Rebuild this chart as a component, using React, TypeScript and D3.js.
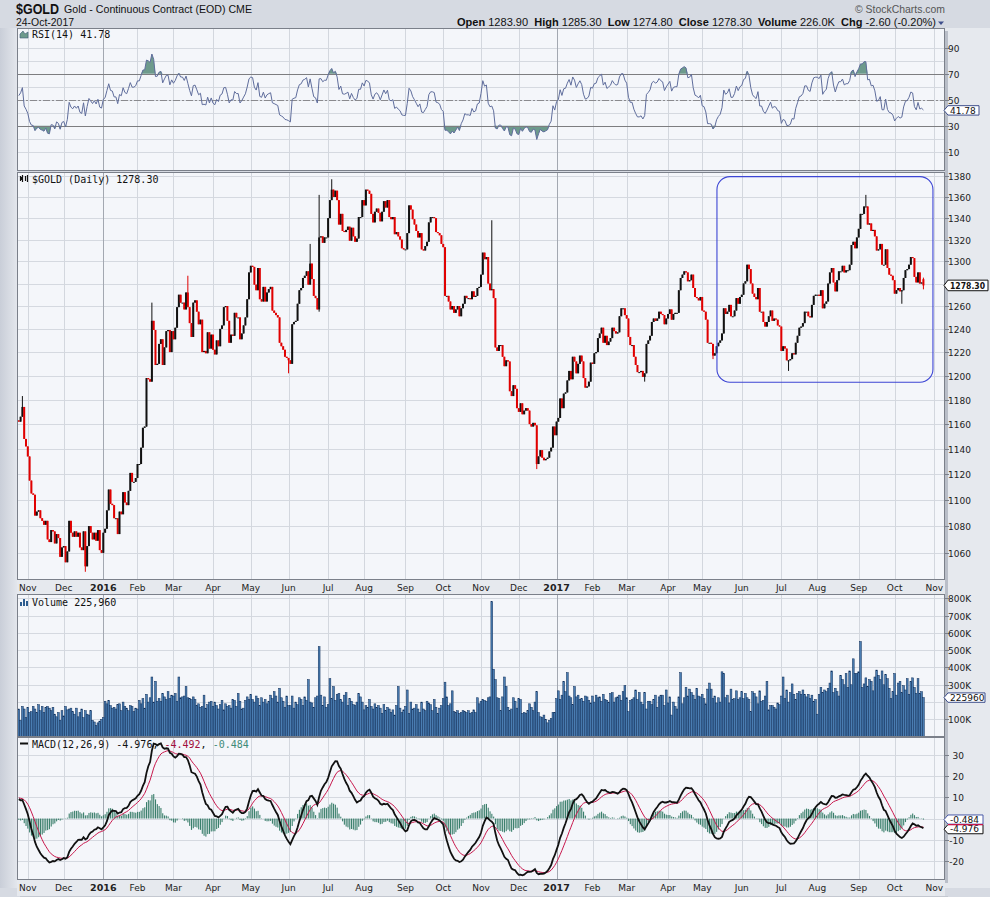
import { useEffect, useRef } from 'react';
import * as d3 from 'd3';

// closes before the visible window (Aug 24 - Oct 23 2015), only used to warm up RSI / MACD
const warmupClose = [
    1153, 1139, 1124, 1124, 1133, 1132,
    1139, 1134, 1124, 1121, 1120, 1121, 1109, 1103, 1108, 1102, 1118, 1117, 1137, 1132, 1124, 1131, 1153, 1146, 1132, 1127, 1115,
    1114, 1137, 1137, 1146, 1145, 1147, 1156, 1163, 1166, 1187, 1187, 1176, 1172, 1177, 1167, 1166, 1163,
];

// daily closes, Oct 26 2015 -> Oct 24 2017
const close2015 = [
    1162, 1166, 1174, 1148, 1142,
    1134, 1115, 1105, 1104, 1088, 1091, 1092, 1086, 1084, 1081, 1084, 1070, 1068, 1077, 1076, 1067, 1074, 1071, 1057, 1064,
    1065, 1053, 1061, 1084, 1075, 1072, 1076, 1072, 1075, 1064, 1062, 1076, 1050, 1065, 1080, 1075, 1070, 1075, 1069, 1077, 1062, 1060,
];
const close2016 = [
    1075, 1078, 1092, 1108, 1097, 1096, 1086, 1086, 1074, 1091, 1089, 1106, 1098, 1096, 1107, 1121, 1114, 1114, 1117,
    1128, 1128, 1141, 1157, 1158, 1198, 1197, 1195, 1247, 1239, 1209, 1210, 1227, 1231, 1209, 1224, 1238, 1239, 1220, 1238,
    1231, 1241, 1259, 1270, 1263, 1263, 1257, 1272, 1259, 1245, 1233, 1263, 1265, 1255, 1244, 1248, 1220, 1221, 1219, 1237, 1223, 1235,
    1222, 1218, 1230, 1225, 1240, 1243, 1259, 1260, 1247, 1228, 1235, 1234, 1254, 1250, 1250, 1231, 1236, 1243, 1250, 1266, 1290,
    1296, 1295, 1279, 1274, 1294, 1266, 1264, 1277, 1264, 1272, 1275, 1277, 1256, 1254, 1252, 1250, 1228, 1225, 1222, 1216, 1215,
    1213, 1210, 1244, 1246, 1247, 1262, 1274, 1276, 1285, 1287, 1291, 1279, 1298, 1284, 1269, 1267, 1257, 1322, 1323, 1317, 1322, 1322,
    1340, 1357, 1367, 1360, 1366, 1357, 1334, 1344, 1328, 1327, 1329, 1332, 1319, 1331, 1323, 1318, 1321, 1341, 1341, 1357,
    1352, 1367, 1366, 1363, 1344, 1336, 1346, 1349, 1345, 1337, 1346, 1356, 1350, 1357, 1341, 1339, 1341, 1325, 1327, 1323, 1320, 1312, 1311,
    1311, 1326, 1352, 1348, 1339, 1334, 1328, 1322, 1326, 1311, 1310, 1314, 1318, 1336, 1341, 1341, 1340, 1327, 1326, 1324, 1316,
    1313, 1269, 1269, 1264, 1257, 1260, 1254, 1257, 1260, 1251, 1258, 1262, 1269, 1267, 1267, 1266, 1273, 1268, 1269, 1276, 1277,
    1288, 1308, 1302, 1304, 1280, 1274, 1275, 1267, 1224, 1221, 1226, 1226, 1216, 1208, 1213, 1212, 1187, 1183, 1192, 1189, 1173,
    1170, 1177, 1168, 1171, 1173, 1171, 1160, 1158, 1161, 1159, 1128, 1134, 1139, 1133, 1131, 1132, 1133, 1138, 1141, 1158, 1151,
];
const close2017 = [
    1162, 1165, 1181, 1173, 1185, 1186, 1196, 1204, 1197, 1216, 1212, 1202, 1210, 1217, 1212, 1198, 1190, 1191, 1195, 1211,
    1210, 1219, 1220, 1232, 1236, 1241, 1228, 1234, 1226, 1229, 1232, 1241, 1238, 1236, 1237, 1251, 1258, 1258, 1252,
    1249, 1233, 1226, 1226, 1216, 1209, 1203, 1203, 1204, 1199, 1202, 1227, 1230, 1234, 1246, 1249, 1247, 1249, 1255, 1253, 1252, 1244, 1249,
    1253, 1257, 1248, 1253, 1254, 1254, 1274, 1285, 1288, 1291, 1290, 1282, 1283, 1288, 1276, 1268, 1267, 1265, 1268,
    1256, 1255, 1248, 1228, 1228, 1227, 1217, 1219, 1225, 1228, 1230, 1236, 1258, 1253, 1255, 1261, 1251, 1251, 1256, 1267, 1262, 1268,
    1270, 1280, 1282, 1297, 1293, 1280, 1271, 1268, 1266, 1276, 1255, 1255, 1246, 1242, 1246, 1251, 1256, 1247, 1249, 1248, 1243, 1242,
    1221, 1225, 1223, 1213, 1213, 1214, 1219, 1218, 1228, 1234, 1241, 1242, 1245, 1255, 1255, 1251, 1250, 1261, 1269, 1270,
    1270, 1269, 1274, 1258, 1262, 1264, 1280, 1290, 1294, 1281, 1273, 1283, 1291, 1291, 1296, 1290, 1292, 1292, 1297, 1315, 1318, 1312, 1322,
    1330, 1344, 1344, 1351, 1351, 1334, 1335, 1328, 1329, 1323, 1310, 1311, 1316, 1297, 1297, 1311, 1294, 1288, 1287, 1283,
    1271, 1274, 1276, 1273, 1274, 1285, 1292, 1293, 1297, 1304, 1303, 1286, 1281, 1290, 1280, 1280.9, 1278.3,
];

// daily volume, thousands of contracts
const volume2015 = [
    160, 95, 175, 160, 110,
    170, 140, 145, 175, 160, 140, 185, 150, 175, 140, 170, 175, 165, 150, 170, 130, 115, 140, 95, 150,
    120, 175, 155, 160, 165, 145, 130, 165, 115, 140, 160, 110, 150, 130, 125, 150, 95, 85, 65, 80, 90, 100,
];
const volume2016 = [
    110, 205, 190, 210, 180, 165, 170, 160, 185, 190, 150, 200, 175, 165, 150, 180, 175, 145, 165,
    160, 210, 190, 220, 165, 245, 200, 225, 345, 200, 320, 205, 220, 205, 250, 230, 215, 260, 220, 240,
    235, 250, 205, 345, 225, 230, 235, 290, 225, 220, 215, 230, 215, 180, 190, 170, 175, 240, 165, 185, 200, 205,
    175, 200, 180, 160, 185, 210, 155, 190, 175, 180, 165, 215, 210, 175, 250, 205, 160, 165, 210, 230, 215,
    245, 215, 200, 235, 220, 180, 225, 200, 215, 190, 205, 240, 220, 260, 235, 200, 280, 225, 205, 170, 235,
    180, 180, 235, 165, 200, 185, 225, 215, 180, 230, 210, 330, 200, 195, 170, 225, 235, 520, 240, 180, 230, 170,
    185, 335, 220, 290, 210, 245, 250, 215, 200, 240, 255, 180, 220, 205, 185, 180, 200, 250, 230, 200,
    155, 180, 170, 215, 175, 160, 190, 170, 180, 165, 135, 185, 150, 170, 160, 140, 155, 125, 180, 290, 165, 140, 155,
    175, 270, 135, 200, 160, 165, 185, 160, 140, 200, 160, 150, 205, 195, 185, 150, 215, 170, 135, 165, 180,
    220, 315, 230, 180, 190, 265, 145, 140, 150, 135, 140, 150, 145, 140, 150, 135, 140, 155, 140, 225, 190,
    205, 215, 210, 205, 225, 230, 780, 390, 330, 225, 220, 150, 230, 345, 290, 170, 150, 160, 225, 205, 165,
    220, 215, 135, 140, 135, 150, 190, 170, 150, 200, 260, 140, 115, 110, 125, 100, 80, 95, 105, 140, 140,
];
const volume2017 = [
    220, 265, 215, 240, 320, 260, 370, 235, 225, 185, 290, 230, 240, 215, 220, 205, 235, 230, 210, 195,
    235, 200, 240, 225, 230, 205, 245, 215, 210, 200, 250, 255, 200, 225, 230, 240, 210, 260, 295,
    225, 145, 210, 215, 225, 270, 215, 255, 200, 185, 255, 160, 205, 205, 185, 215, 240, 170, 230, 240, 240, 180, 270,
    195, 230, 125, 200, 175, 160, 230, 370, 190, 225, 285, 235, 275, 255, 240, 215, 280, 235, 230,
    245, 220, 190, 275, 310, 275, 220, 235, 195, 225, 200, 375, 365, 225, 240, 195, 275, 215, 220, 265, 215, 225,
    260, 220, 250, 225, 215, 145, 260, 250, 230, 190, 265, 205, 210, 235, 320, 155, 180, 180, 170, 160, 195, 185,
    235, 345, 220, 270, 200, 255, 305, 245, 215, 250, 260, 245, 270, 245, 230, 245, 220, 240, 205, 215,
    130, 245, 285, 255, 270, 260, 280, 310, 380, 255, 280, 260, 235, 355, 330, 300, 365, 285, 380, 300, 450, 365, 365,
    375, 550, 285, 305, 340, 290, 330, 320, 265, 345, 385, 355, 330, 380, 300, 360, 335, 280, 220, 260,
    365, 240, 310, 320, 255, 295, 270, 335, 245, 320, 340, 285, 250, 335, 250, 260, 225.96,
];

// exchange holidays (no bar)
const holidays = [
    '2015-11-26', '2015-12-25', '2016-01-01', '2016-01-18', '2016-02-15', '2016-03-25', '2016-05-30', '2016-07-04',
    '2016-09-05', '2016-11-24', '2016-12-26', '2017-01-02', '2017-01-16', '2017-02-20', '2017-04-14', '2017-05-29',
    '2017-07-04', '2017-09-04',
];

// intraday extremes that stick out of the bodies
const wickHigh: [string, number][] = [
    ['2015-10-28', 1183], ['2016-02-11', 1263], ['2016-03-11', 1287], ['2016-06-17', 1316], ['2016-06-24', 1362],
    ['2016-07-06', 1377], ['2016-11-09', 1338], ['2017-09-08', 1362], ['2017-10-24', 1285.3],
];
const wickLow: [string, number][] = [
    ['2015-12-17', 1046], ['2016-06-01', 1202], ['2016-06-24', 1255], ['2016-12-15', 1124], ['2017-03-15', 1195],
    ['2017-05-09', 1214], ['2017-07-10', 1204], ['2017-10-06', 1262], ['2017-10-24', 1274.8],
];

// last bar as printed in the header: open, high, low, close
const lastBar = [1283.9, 1285.3, 1274.8, 1278.3];

// axis labels (the ones hidden behind value tags are left out)
const priceTicks = d3.range(1060, 1381, 20);
const priceLabels = priceTicks.filter(v => v !== 1280);
const rsiTicks = [10, 30, 50, 70, 90];
const volTicks = [100, 200, 300, 400, 500, 600, 700, 800];
const volLabels = volTicks.filter(v => v !== 200);
const macdTicks = [-20, -10, 10, 20, 30];

const AX = "'DejaVu Sans', Verdana, sans-serif";
const MONO = "'DejaVu Sans Mono', monospace";
const HEAD = "'Liberation Sans', Arial, sans-serif";

export default function App() {
    const ref = useRef<SVGSVGElement>(null);

    useEffect(() => {
        if (!ref.current) return;
        const svg = d3.select(ref.current);
        svg.selectAll('*').remove();

        const L = 17, R = 945;
        const RSI = [28, 171], PRICE = [172, 580], VOL = [594, 737], MACD = [737, 880];

        const closes = [...close2015, ...close2016, ...close2017];
        const vols = [...volume2015, ...volume2016, ...volume2017];
        const n = closes.length;
        const fmt = d3.timeFormat('%Y-%m-%d');
        const days = d3.timeDays(new Date(2015, 9, 26), new Date(2017, 10, 4))
            .filter(d => d.getDay() % 6 !== 0 && !holidays.includes(fmt(d)));

        // indicators
        const all = [...warmupClose, ...closes];
        const w = warmupClose.length;
        const ema = (src: number[], p: number) => {
            const k = 2 / (p + 1);
            const out: number[] = [];
            src.forEach((v, i) => out.push(i === 0 ? v : v * k + out[i - 1] * (1 - k)));
            return out;
        };
        const rsiAll: number[] = [50];
        let ag = 0, al = 0;
        for (let i = 1; i < all.length; i++) {
            const d = all[i] - all[i - 1];
            const g = Math.max(d, 0), l = Math.max(-d, 0);
            if (i <= 14) { ag += g / 14; al += l / 14; }
            else { ag = (ag * 13 + g) / 14; al = (al * 13 + l) / 14; }
            rsiAll.push(al === 0 ? 100 : 100 - 100 / (1 + ag / al));
        }
        const rsi = rsiAll.slice(w);
        const e12 = ema(all, 12), e26 = ema(all, 26);
        const macdAll = all.map((_, i) => e12[i] - e26[i]);
        const sigAll = ema(macdAll, 9);
        const macd = macdAll.slice(w), signal = sigAll.slice(w);
        const hist = macd.map((m, i) => m - signal[i]);

        // scales
        const x = d3.scaleLinear().domain([-1, 515]).range([L, R]);
        const yP = d3.scaleLog().domain([1040, 1384]).range([PRICE[1], PRICE[0]]);
        const yR = d3.scaleLinear().domain([0, 100]).range([164.7, 34.7]);
        const yV = d3.scaleLinear().domain([0, 820]).range([736.7, 594.8]);
        const yM = d3.scaleLinear().domain([-28.8, 38.2]).range([MACD[1], MACD[0]]);

        const ticks: { i: number; d: Date }[] = [];
        for (let k = 1; k < days.length; k++) {
            if (days[k].getMonth() !== days[k - 1].getMonth()) ticks.push({ i: k, d: days[k] });
        }
        const cx = (i: number) => Math.round(x(i)) + 0.5;

        // background
        svg.append('rect').attr('width', 990).attr('height', 897).attr('fill', '#d6dae2');
        const sideGrad = svg.append('defs').append('linearGradient').attr('id', 'side').attr('x1', 0).attr('x2', 1);
        sideGrad.append('stop').attr('offset', 0).attr('stop-color', '#c9ced8');
        sideGrad.append('stop').attr('offset', 1).attr('stop-color', '#e3e6ec');
        svg.append('rect').attr('x', 0).attr('y', 28).attr('width', L).attr('height', 860).attr('fill', 'url(#side)');
        svg.append('rect').attr('x', R).attr('y', 28).attr('width', 990 - R).attr('height', 860).attr('fill', '#e6e9ee');
        svg.append('rect').attr('x', L).attr('y', PRICE[1]).attr('width', R - L).attr('height', VOL[0] - PRICE[1]).attr('fill', '#e6e9ee');
        svg.append('rect').attr('x', L).attr('y', MACD[1]).attr('width', R - L).attr('height', 16).attr('fill', '#e6e9ee');
        // panel drop shadow
        svg.append('rect').attr('x', R).attr('y', 31).attr('width', 3).attr('height', MACD[1] - 28).attr('fill', '#b9bec8');
        svg.append('rect').attr('x', L + 3).attr('y', MACD[1] + 16).attr('width', R - L).attr('height', 3).attr('fill', '#c4c8d0');

        const defs = svg.append('defs');
        const panel = (id: string, [top, bottom]: number[], hTicks: number[], yOf: (v: number) => number) => {
            defs.append('clipPath').attr('id', id).append('rect')
                .attr('x', L).attr('y', top).attr('width', R - L).attr('height', bottom - top);
            svg.append('rect').attr('x', L).attr('y', top).attr('width', R - L).attr('height', bottom - top).attr('fill', '#f4f6fa');
            const g = svg.append('g').attr('clip-path', `url(#${id})`);
            g.selectAll(null).data(hTicks).join('line')
                .attr('x1', L).attr('x2', R)
                .attr('y1', d => Math.round(yOf(d)) + 0.5).attr('y2', d => Math.round(yOf(d)) + 0.5)
                .attr('stroke', '#d5d9e0');
            g.selectAll(null).data(ticks).join('line')
                .attr('x1', t => cx(t.i)).attr('x2', t => cx(t.i)).attr('y1', top).attr('y2', bottom)
                .attr('stroke', t => (t.d.getMonth() === 0 ? '#a3a8b1' : '#d3d7de'));
            return g;
        };
        const border = ([top, bottom]: number[]) => {
            svg.append('rect').attr('x', L + 0.5).attr('y', top + 0.5).attr('width', R - L - 1).attr('height', bottom - top - 1)
                .attr('fill', 'none').attr('stroke', '#7b808a');
        };
        const axisLabels = (vals: number[], yOf: (v: number) => number, fmtL: (v: number) => string, anchorEnd = false) => {
            vals.forEach(v => {
                const yy = Math.round(yOf(v)) + 0.5;
                svg.append('line').attr('x1', R).attr('x2', R + 4).attr('y1', yy).attr('y2', yy).attr('stroke', '#7b808a');
                svg.append('text').attr('x', anchorEnd ? 964 : 948).attr('y', yy + 3.3)
                    .attr('text-anchor', anchorEnd ? 'end' : 'start')
                    .attr('font-family', AX).attr('font-size', 9).attr('fill', '#222').text(fmtL(v));
            });
        };
        const tag = (yy: number, label: string, stroke: string, wd: number, half = 5, bold = false) => {
            svg.append('path')
                .attr('d', `M${R - 1},${yy} L${R + 3},${yy - half} L${R + 3 + wd},${yy - half} L${R + 3 + wd},${yy + half} L${R + 3},${yy + half} Z`)
                .attr('fill', '#fff').attr('stroke', stroke).attr('stroke-width', 1);
            const t = svg.append('text').attr('x', R + 5).attr('y', yy + 3.3)
                .attr('font-family', AX).attr('font-size', bold ? 9 : 9).attr('font-weight', bold ? 'bold' : 'normal')
                .attr('fill', '#111').text(label);
            if (bold) t.attr('textLength', wd - 5).attr('lengthAdjust', 'spacingAndGlyphs');
        };

        // ---------- RSI ----------
        const gR = panel('cR', RSI, d3.range(10, 100, 10), yR);
        const aboveArea = d3.area<number>().x((_, i) => x(i)).y0(yR(70)).y1(d => yR(Math.max(d, 70)));
        const belowArea = d3.area<number>().x((_, i) => x(i)).y0(yR(30)).y1(d => yR(Math.min(d, 30)));
        gR.append('path').datum(rsi).attr('d', aboveArea).attr('fill', '#6d9a8c');
        gR.append('path').datum(rsi).attr('d', belowArea).attr('fill', '#6d9a8c');
        [70, 30].forEach(v => gR.append('line').attr('x1', L).attr('x2', R)
            .attr('y1', Math.round(yR(v)) + 0.5).attr('y2', Math.round(yR(v)) + 0.5).attr('stroke', '#7d7d80'));
        gR.append('line').attr('x1', L).attr('x2', R).attr('y1', Math.round(yR(50)) + 0.5).attr('y2', Math.round(yR(50)) + 0.5)
            .attr('stroke', '#8a8a8e').attr('stroke-dasharray', '7,2,2,2');
        gR.append('path').datum(rsi)
            .attr('d', d3.line<number>().x((_, i) => x(i)).y(d => yR(d)))
            .attr('fill', 'none').attr('stroke', '#5f6d9c').attr('stroke-width', 1);
        border(RSI);
        axisLabels(rsiTicks, yR, v => String(v));

        // ---------- Price ----------
        const gP = panel('cP', PRICE, priceTicks, yP);
        const hiMap = new Map(wickHigh), loMap = new Map(wickLow);
        const bars = closes.map((c, i) => {
            const key = fmt(days[i]);
            const prev = i === 0 ? warmupClose[w - 1] : closes[i - 1];
            const o = i === n - 1 ? lastBar[0] : prev;
            return {
                i, o, c,
                hi: Math.max(o, c, hiMap.get(key) ?? 0),
                lo: Math.min(o, c, loMap.get(key) ?? Infinity),
                col: c >= prev ? '#111111' : '#e00000',
            };
        });
        gP.selectAll(null).data(bars).join('line')
            .attr('x1', d => x(d.i)).attr('x2', d => x(d.i))
            .attr('y1', d => yP(d.hi)).attr('y2', d => yP(d.lo))
            .attr('stroke', d => d.col).attr('stroke-width', 1);
        gP.selectAll(null).data(bars).join('rect')
            .attr('x', d => x(d.i) - 1).attr('width', 2)
            .attr('y', d => yP(Math.max(d.o, d.c)))
            .attr('height', d => Math.max(1, yP(Math.min(d.o, d.c)) - yP(Math.max(d.o, d.c))))
            .attr('fill', d => d.col);
        // annotation box
        gP.append('rect')
            .attr('x', x(388.2)).attr('y', yP(1379.5))
            .attr('width', x(508.3) - x(388.2)).attr('height', yP(1194.5) - yP(1379.5))
            .attr('rx', 13).attr('fill', 'none').attr('stroke', '#3c45d4').attr('stroke-width', 1.1);
        border(PRICE);
        axisLabels(priceLabels, yP, v => String(v));

        // ---------- Volume ----------
        const gV = panel('cV', VOL, volTicks, yV);
        gV.selectAll(null).data(vols).join('rect')
            .attr('x', (_, i) => x(i) - 0.9).attr('width', 1.8)
            .attr('y', d => yV(d)).attr('height', d => yV(0) - yV(d))
            .attr('fill', '#4a7db2').attr('stroke', '#0c2c58').attr('stroke-width', 0.5);
        border(VOL);
        axisLabels(volLabels, yV, v => `${v}K`);

        // ---------- MACD ----------
        const gM = panel('cM', MACD, [-20, -10, 0, 10, 20, 30], yM);
        gM.selectAll(null).data(hist).join('rect')
            .attr('x', (_, i) => x(i) - 0.5).attr('width', 1.1)
            .attr('y', d => yM(Math.max(d, 0))).attr('height', d => Math.abs(yM(d) - yM(0)))
            .attr('fill', '#3b7f6c');
        gM.append('path').datum(signal)
            .attr('d', d3.line<number>().x((_, i) => x(i)).y(d => yM(d)))
            .attr('fill', 'none').attr('stroke', '#c8174c').attr('stroke-width', 1);
        gM.append('path').datum(macd)
            .attr('d', d3.line<number>().x((_, i) => x(i)).y(d => yM(d)))
            .attr('fill', 'none').attr('stroke', '#111').attr('stroke-width', 1.8);
        border(MACD);
        axisLabels(macdTicks, yM, v => String(v), true);

        // ---------- tags ----------
        tag(yR(41.78), '41.78', '#3e4f8c', 31, 4.7);
        tag(yP(lastBar[3]), lastBar[3].toFixed(2), '#111', 40, 5.3, true);
        tag(yV(225.96), '225960', '#3e4f8c', 37, 4.7);
        tag(yM(-0.484), '-0.484', '#4a5aa8', 35, 4.6);
        tag(yM(-4.976), '-4.976', '#111', 35, 4.6);
        svg.append('line').attr('x1', R + 3).attr('x2', R + 38).attr('y1', yM(-4.976) - 4.6).attr('y2', yM(-4.976) - 4.6)
            .attr('stroke', '#c8174c').attr('stroke-width', 1.2);

        // ---------- month labels ----------
        [590.5, 891].forEach(by => {
            ticks.forEach(t => {
                const jan = t.d.getMonth() === 0;
                svg.append('text').attr('x', x(t.i)).attr('y', by).attr('text-anchor', 'middle')
                    .attr('font-family', AX).attr('font-size', jan ? 9.5 : 9).attr('font-weight', jan ? 'bold' : 'normal')
                    .attr('fill', '#222').text(jan ? d3.timeFormat('%Y')(t.d) : d3.timeFormat('%b')(t.d));
            });
        });

        // ---------- panel titles ----------
        const title = (yy: number, parts: [string, string][]) => {
            const t = svg.append('text').attr('x', 32).attr('y', yy).attr('font-family', MONO).attr('font-size', 10)
                .attr('xml:space', 'preserve');
            parts.forEach(([s, c]) => t.append('tspan').attr('fill', c).text(s));
        };
        // icons
        svg.append('path').attr('d', 'M20,38 L20,34 L23,31 L25,34 L28,32 L28,38 Z').attr('fill', '#6d9a8c').attr('stroke', '#3e5a78').attr('stroke-width', 0.6);
        title(38, [['RSI(14) 41.78', '#111']]);
        [[20.5, 176, 181], [22.5, 175, 182], [25.5, 176, 181], [27.5, 175, 182]].forEach(([xx, a, b]) =>
            svg.append('line').attr('x1', xx).attr('x2', xx).attr('y1', a).attr('y2', b).attr('stroke', '#111').attr('stroke-width', 1.2));
        svg.append('rect').attr('x', 21).attr('y', 177).attr('width', 2).attr('height', 3).attr('fill', '#111');
        title(182.5, [['$GOLD (Daily) 1278.30', '#111']]);
        [[20, 602, 4], [23, 599, 7], [26, 601, 5]].forEach(([xx, yy, hh]) =>
            svg.append('rect').attr('x', xx).attr('y', yy).attr('width', 2).attr('height', hh).attr('fill', '#2d5c8f'));
        title(605.5, [['Volume 225,960', '#111']]);
        svg.append('rect').attr('x', 20).attr('y', 742.5).attr('width', 8).attr('height', 2).attr('fill', '#111');
        title(747.5, [['MACD(12,26,9) -4.976', '#111'], [', ', '#111'], ['-4.492', '#a0103c'], [', ', '#111'], ['-0.484', '#3e8a78']]);

        // ---------- header ----------
        svg.append('text').attr('x', 16).attr('y', 14)
            .attr('font-family', "'Liberation Sans Narrow', 'Arial Narrow', " + HEAD).attr('font-weight', 'bold')
            .attr('font-size', 14).attr('textLength', 43).attr('lengthAdjust', 'spacingAndGlyphs').attr('fill', '#111').text('$GOLD');
        svg.append('text').attr('x', 64).attr('y', 13).attr('font-family', HEAD).attr('font-size', 11.5)
            .attr('textLength', 188).attr('lengthAdjust', 'spacingAndGlyphs').attr('fill', '#111')
            .text('Gold - Continuous Contract (EOD) CME');
        svg.append('text').attr('x', 16).attr('y', 26).attr('font-family', HEAD).attr('font-size', 10.5)
            .attr('textLength', 58).attr('lengthAdjust', 'spacingAndGlyphs').attr('fill', '#111').text('24-Oct-2017');
        svg.append('text').attr('x', 855).attr('y', 12.5).attr('font-family', HEAD).attr('font-size', 11)
            .attr('textLength', 90).attr('lengthAdjust', 'spacingAndGlyphs').attr('fill', '#555').text('\u00A9 StockCharts.com');
        const hdr = svg.append('text').attr('x', 457).attr('y', 25.5).attr('font-family', HEAD).attr('font-size', 11.5)
            .attr('textLength', 479).attr('lengthAdjust', 'spacingAndGlyphs').attr('fill', '#111').attr('xml:space', 'preserve');
        const quoteParts: [string, boolean][] = [
            ['Open ', true], [`${lastBar[0].toFixed(2)}  `, false],
            ['High ', true], [`${lastBar[1].toFixed(2)}  `, false],
            ['Low ', true], [`${lastBar[2].toFixed(2)}  `, false],
            ['Close ', true], [`${lastBar[3].toFixed(2)}  `, false],
            ['Volume ', true], ['226.0K  ', false],
            ['Chg ', true], ['-2.60 (-0.20%)', false],
        ];
        quoteParts.forEach(([s, b]) => hdr.append('tspan').attr('font-weight', b ? 'bold' : 'normal').text(s));
        svg.append('path').attr('d', 'M938,21.5 L944,21.5 L941,25 Z').attr('fill', '#3e4f8c');
    }, []);

    return (
        <div style={{ position: 'absolute', left: 0, top: 0 }}>
            <svg ref={ref} width={990} height={897} style={{ display: 'block' }} />
        </div>
    );
}
